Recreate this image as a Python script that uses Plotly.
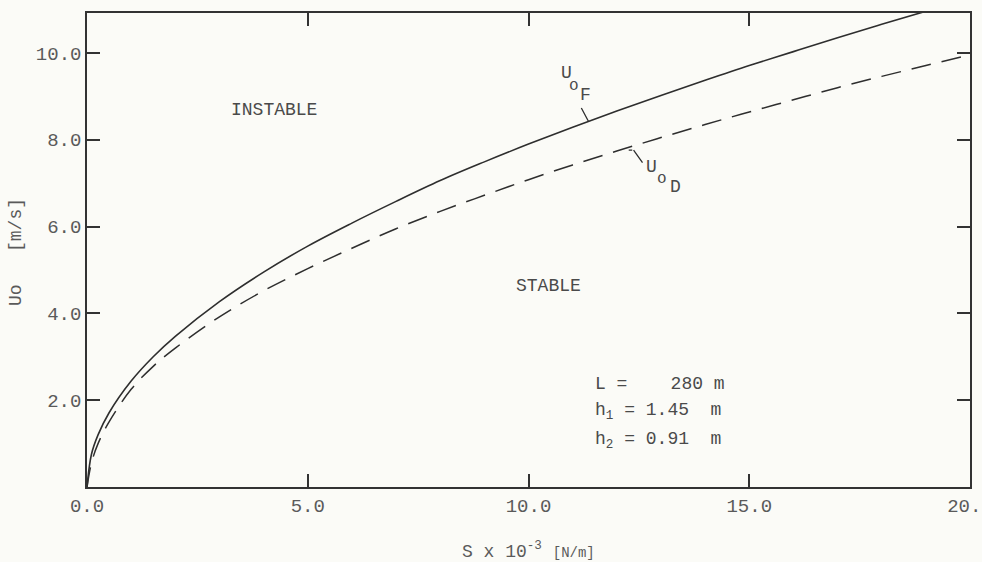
import plotly.graph_objects as go

# S x 10^-3 [N/m]
s_vals = [0, 0.1, 0.25, 0.5, 1, 1.5, 2, 3, 4, 5, 6, 7, 8, 9, 10,
          11, 12, 13, 14, 15, 16, 17, 18, 19, 20]
# Uo_F, solid line [m/s]
uo_f = [0, 0.75, 1.2, 1.71, 2.44, 3.0, 3.47, 4.27, 4.95, 5.55, 6.08, 6.58,
        7.06, 7.49, 7.9, 8.29, 8.66, 9.02, 9.37, 9.71, 10.03, 10.35, 10.66,
        10.96, 11.25]
# Uo_D, dashed line [m/s]
uo_d = [0, 0.55, 1.0, 1.5, 2.25, 2.78, 3.2, 3.92, 4.52, 5.03, 5.5, 5.95,
        6.35, 6.72, 7.08, 7.42, 7.74, 8.05, 8.35, 8.64, 8.92, 9.2, 9.46,
        9.71, 9.96]

x_ticks = [0, 5, 10, 15, 20]
x_labels = ["0.0", "5.0", "10.0", "15.0", "20.0"]
y_ticks = [2, 4, 6, 8, 10]
y_labels = ["2.0", "4.0", "6.0", "8.0", "10.0"]

FONT = "Liberation Mono, Courier New, monospace"
INK = "#2e2e2e"
TXT = "#4a4a4a"

fig = go.Figure()
fig.add_trace(go.Scatter(x=s_vals, y=uo_f, mode="lines", line_shape="spline",
                         line=dict(color=INK, width=1.6), showlegend=False))
fig.add_trace(go.Scatter(x=s_vals, y=uo_d, mode="lines", line_shape="spline",
                         line=dict(color=INK, width=1.5, dash="20px,11px"),
                         showlegend=False))

axis_common = dict(showline=True, linecolor="#333", linewidth=1.5,
                   mirror="ticks", ticks="inside", ticklen=13, tickwidth=1.5,
                   tickcolor="#333", showgrid=False, zeroline=False,
                   ticklabeloverflow="allow", automargin=False,
                   tickfont=dict(family=FONT, size=19, color="#5a5a5a"))

fig.update_xaxes(range=[0, 20], tickvals=x_ticks, ticktext=x_labels,
                 ticklabelstandoff=0, **axis_common)
fig.update_yaxes(range=[0, 10.92], tickvals=y_ticks, ticktext=y_labels,
                 ticklabelstandoff=0, **axis_common)

# region labels
fig.add_annotation(x=4.23, y=8.69, text="INSTABLE", showarrow=False,
                   font=dict(family=FONT, size=18, color=TXT))
fig.add_annotation(x=10.45, y=4.63, text="STABLE", showarrow=False,
                   font=dict(family=FONT, size=18, color=TXT))

# curve labels: U, o, index letter placed as a typewriter would
label_parts = [("U", 10.87, 9.53, 18), ("o", 11.03, 9.24, 16), ("F", 11.30, 9.03, 18),
               ("U", 12.79, 7.38, 18), ("o", 13.02, 7.10, 16), ("D", 13.32, 6.92, 18)]
for ch, lx, ly, fs in label_parts:
    fig.add_annotation(x=lx, y=ly, text=ch, showarrow=False,
                       font=dict(family=FONT, size=fs, color=TXT))

# leader lines
fig.add_annotation(x=11.36, y=8.42, ax=-8, ay=-15, text="", showarrow=True,
                   arrowhead=0, arrowwidth=1.3, arrowcolor=INK)
fig.add_annotation(x=12.27, y=7.76, ax=5, ay=0, text="", showarrow=True,
                   arrowhead=0, arrowwidth=1.3, arrowcolor=INK)
fig.add_annotation(x=12.38, y=7.76, ax=10, ay=14, text="", showarrow=True,
                   arrowhead=0, arrowwidth=1.3, arrowcolor=INK)

# parameters
params = ["L =    280 m", "h<sub>1</sub> = 1.45  m", "h<sub>2</sub> = 0.91  m"]
param_y = [2.37, 1.73, 1.06]
for txt, py in zip(params, param_y):
    fig.add_annotation(x=11.45, y=py, xanchor="left", text=txt,
                       showarrow=False,
                       font=dict(family=FONT, size=18, color=TXT))

# axis titles
fig.add_annotation(xref="paper", yref="paper", x=0, y=0.5, xshift=-71,
                   yshift=-2, xanchor="center", yanchor="middle",
                   text="Uo   [m/s]", textangle=-90, showarrow=False,
                   font=dict(family=FONT, size=18, color="#5a5a5a"))
fig.add_annotation(xref="paper", yref="paper", x=0.5, y=0, yshift=-63,
                   yanchor="middle",
                   text="S x 10<sup>-3</sup> <span style='font-size:14px'>[N/m]</span>",
                   showarrow=False,
                   font=dict(family=FONT, size=18, color="#5a5a5a"))

fig.update_layout(width=982, height=562,
                  margin=dict(l=87, r=12, t=13, b=75, autoexpand=False),
                  paper_bgcolor="#fbfbf7", plot_bgcolor="#fbfbf7")

fig.write_html("out.html", config={"displayModeBar": False},
               post_script="document.body.style.margin='0';")
